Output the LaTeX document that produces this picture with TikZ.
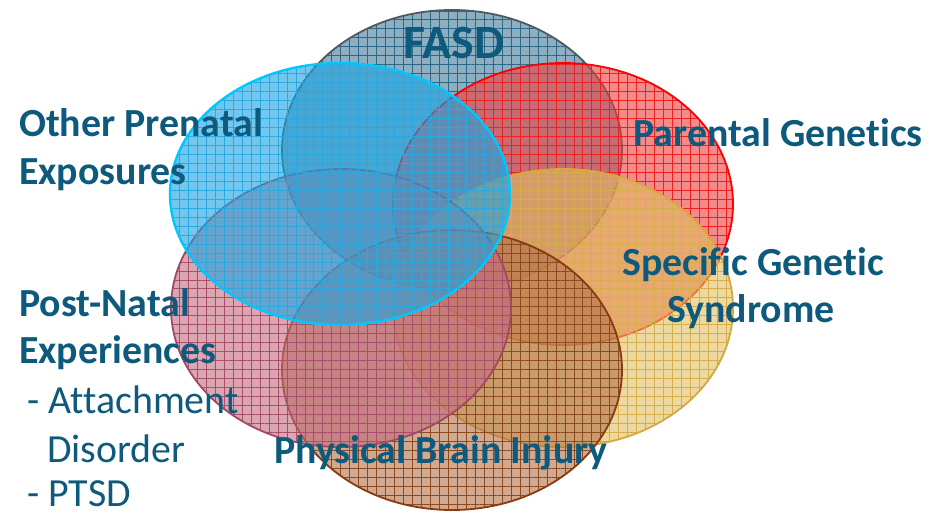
\documentclass[tikz,border=0pt]{standalone}
\usepackage{fontspec}
\setmainfont{Carlito}[Ligatures=NoCommon]
\usetikzlibrary{patterns.meta}

\definecolor{txt}{HTML}{0E5A7C}
% fill, grid and outline colours of the six ellipses
\definecolor{fasdF}{HTML}{447B99}\definecolor{fasdG}{HTML}{2A6A88}\definecolor{fasdE}{HTML}{4E5A60}
\definecolor{redF}{HTML}{ED3C3C}\definecolor{redG}{HTML}{EE2020}\definecolor{redE}{HTML}{FF0000}
\definecolor{yelF}{HTML}{E1BE61}\definecolor{yelG}{HTML}{D6AE4C}\definecolor{yelE}{HTML}{D8A840}
\definecolor{brnF}{HTML}{B17146}\definecolor{brnG}{HTML}{8B4A20}\definecolor{brnE}{HTML}{8B3A10}
\definecolor{pnkF}{HTML}{C36B7F}\definecolor{pnkG}{HTML}{A8506A}\definecolor{pnkE}{HTML}{A04A60}
\definecolor{cyaF}{HTML}{17A3E3}\definecolor{cyaG}{HTML}{2AA8E0}\definecolor{cyaE}{HTML}{00C8FF}

\tikzset{
  lbl/.style={font=\fontsize{40}{48}\selectfont\bfseries, text=txt, inner sep=0pt},
  big/.style={font=\fontsize{48}{56}\selectfont\bfseries, text=txt, inner sep=0pt},
  sub/.style={font=\fontsize{40}{48}\selectfont, text=txt, inner sep=0pt},
}

% one grid-filled ellipse: centre, x radius, y radius, fill, grid, edge colour, edge width
\newcommand{\gridellipse}[7]{%
  \path[fill=#4, fill opacity=0.6] (#1) ellipse [x radius=#2, y radius=#3];
  \path[pattern={Hatch[angle=0,distance=9pt,line width=0.7pt]}, pattern color=#5, fill opacity=0.55]
    (#1) ellipse [x radius=#2, y radius=#3];
  \draw[#6, line width=#7] (#1) ellipse [x radius=#2, y radius=#3];
}

\begin{document}
\begin{tikzpicture}[x=1bp, y=-1bp]
  \useasboundingbox (0,0) rectangle (932,513);
  \fill[white] (0,0) rectangle (932,513);

  \gridellipse{452,150}{170}{140}{fasdF}{fasdG}{fasdE}{1.8bp}
  \gridellipse{563,204}{170}{141}{redF}{redG}{redE}{1.8bp}
  \gridellipse{563,308}{170}{139}{yelF}{yelG}{yelE}{1.8bp}
  \gridellipse{452,370}{170}{140}{brnF}{brnG}{brnE}{1.8bp}
  \gridellipse{341,308}{170}{139}{pnkF}{pnkG}{pnkE}{1.8bp}
  \gridellipse{340,194}{170}{131}{cyaF}{cyaG}{cyaE}{2.4bp}

  \node[big, anchor=base] (fasd) at (454,59) {FASD};
  \node[lbl, anchor=base west] (other1) at (19,137) {Other Prenatal};
  \node[lbl, anchor=base west] (other2) at (19,185) {Exposures};
  \node[lbl, anchor=base west] (parent) at (633,147) {Parental Genetics};
  \node[lbl, anchor=base west] (spec1) at (622,276) {Specific Genetic};
  \node[lbl, anchor=base west] (spec2) at (667,323) {Syndrome};
  \node[lbl, anchor=base west] (post1) at (19,317) {Post-Natal};
  \node[lbl, anchor=base west] (post2) at (19,364) {Experiences};
  \node[sub, anchor=base west] (att) at (27,413) {- Attachment};
  \node[sub, anchor=base west] (dis) at (47,462) {Disorder};
  \node[sub, anchor=base west] (ptsd) at (27,506) {- PTSD};
  \node[lbl, anchor=base west] (brain) at (274,463) {Physical Brain Injury};
\end{tikzpicture}
\end{document}
